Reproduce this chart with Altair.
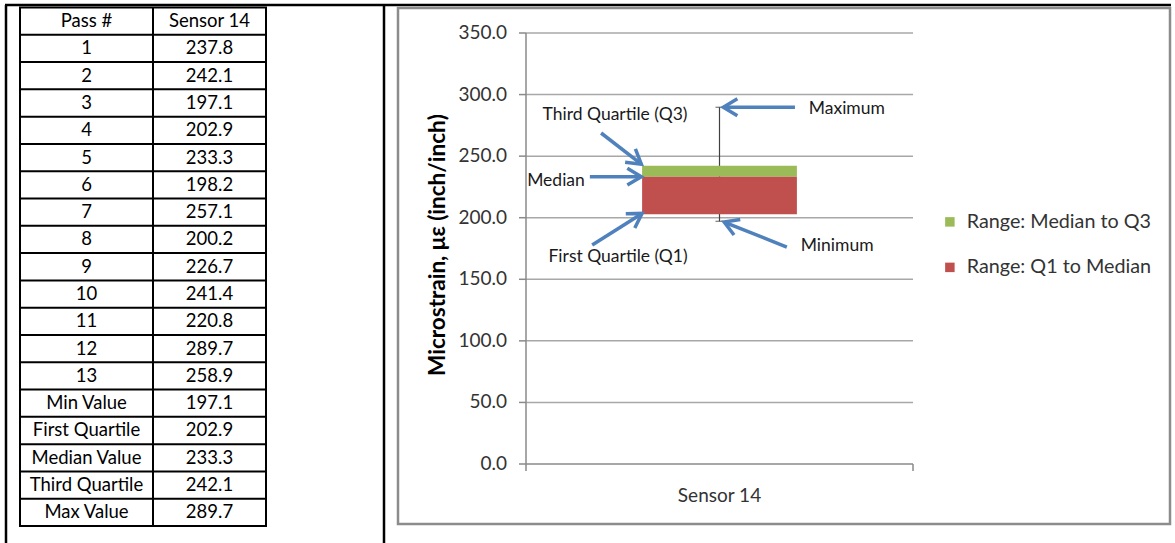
import math

import altair as alt
import pandas as pd

# ---------------- data ----------------
passes = [str(i) for i in range(1, 14)]
sensor14 = [237.8, 242.1, 197.1, 202.9, 233.3, 198.2, 257.1, 200.2, 226.7, 241.4, 220.8, 289.7, 258.9]
stat_labels = ["Min Value", "First Quartile", "Median Value", "Third Quartile", "Max Value"]
stat_values = [197.1, 202.9, 233.3, 242.1, 289.7]
table_header = ["Pass #", "Sensor 14"]

category = "Sensor 14"
y_ticks = [0, 50, 100, 150, 200, 250, 300, 350]
series_names = ["Range: Median to Q3", "Range: Q1 to Median"]
series_colors = ["#9BBB59", "#C0504D"]

# callouts: u = fraction across the plot width, v = microstrain
callout_text = ["Third Quartile (Q3)", "Median", "First Quartile (Q1)", "Maximum", "Minimum"]
callout_align = ["center", "right", "center", "center", "center"]
callout_u = [0.230, 0.152, 0.238, 0.829, 0.804]
callout_v = [283.4, 230.0, 168.1, 288.3, 177.0]
arrow_tail_u = [0.194, 0.165, 0.171, 0.695, 0.674]
arrow_tail_v = [268.8, 233.3, 177.8, 289.7, 176.2]
arrow_tip_u = [0.298, 0.298, 0.300, 0.510, 0.512]
arrow_tip_v = [243.5, 233.3, 203.5, 289.7, 196.5]

# ---------------- layout ----------------
W, H = 1175, 543
FONT = "Lato"
TEXT = "#1a1a1a"
AXIS_TEXT = "#333333"
BLUE = "#4F81BD"

TABLE_X = [20, 153, 266]
TABLE_Y = [7.5, 526]
PLOT_X = [526, 913]
PLOT_Y = [464, 33]
Y_DOMAIN = [0, 350]
HEAD_PATH = "M -1 -0.6 L 0 0 L -1 0.6"


def yscale():
    return alt.Scale(domain=Y_DOMAIN, range=PLOT_Y, nice=False, zero=False)


def uscale():
    return alt.Scale(domain=[0, 1], range=PLOT_X, nice=False, zero=False)


def xband():
    return alt.Scale(type="band", domain=[category], range=PLOT_X,
                     paddingInner=0, paddingOuter=0.75)


one = pd.DataFrame({"k": [0]})


def vrule(x, y0, y1, color, width):
    return alt.Chart(one).mark_rule(color=color, strokeWidth=width).encode(
        x=alt.value(x), y=alt.value(y0), y2=alt.value(y1))


def hrule(y, x0, x1, color, width):
    return alt.Chart(one).mark_rule(color=color, strokeWidth=width).encode(
        y=alt.value(y), x=alt.value(x0), x2=alt.value(x1))


layers = []

# ---------------- page frame ----------------
layers += [
    hrule(5, 5, 1171, "black", 2.5),
    vrule(6, 5, H, "black", 2.5),
    vrule(384, 5, H, "black", 2.5),
]

# ---------------- data table ----------------
rows = [tuple(table_header)]
rows += [(p, f"{v:.1f}") for p, v in zip(passes, sensor14)]
rows += [(s, f"{v:.1f}") for s, v in zip(stat_labels, stat_values)]
n_rows = len(rows)

cells = []
for r, (a, b) in enumerate(rows):
    cells.append({"rm": r + 0.5, "col": "c1", "text": a})
    cells.append({"rm": r + 0.5, "col": "c2", "text": b})
df_cells = pd.DataFrame(cells)

table_y = alt.Scale(domain=[0, n_rows], range=TABLE_Y, nice=False, zero=False)
col_mid = [(TABLE_X[0] + TABLE_X[1]) / 2, (TABLE_X[1] + TABLE_X[2]) / 2]

layers.append(
    alt.Chart(df_cells).mark_text(font=FONT, fontSize=18.5, color="black", baseline="middle").encode(
        x=alt.X("col:N", scale=alt.Scale(type="point", domain=["c1", "c2"], range=col_mid, padding=0), axis=None),
        y=alt.Y("rm:Q", scale=table_y, axis=None),
        text="text:N",
    )
)
layers.append(
    alt.Chart(pd.DataFrame({"r": list(range(n_rows + 1))})).mark_rule(color="black", strokeWidth=2).encode(
        x=alt.value(TABLE_X[0] - 1), x2=alt.value(TABLE_X[-1] + 1),
        y=alt.Y("r:Q", scale=table_y, axis=None),
    )
)
for xe in TABLE_X:
    layers.append(vrule(xe, TABLE_Y[0], TABLE_Y[1], "black", 2))

# ---------------- chart frame ----------------
layers.append(
    alt.Chart(one).mark_rect(fill="white", stroke="#8c8c8c", strokeWidth=2.5).encode(
        x=alt.value(398), x2=alt.value(1170), y=alt.value(8), y2=alt.value(524))
)

# gridlines, axis lines and ticks
df_ticks = pd.DataFrame({"v": y_ticks})
layers.append(
    alt.Chart(df_ticks[df_ticks.v > 0]).mark_rule(color="#a8a8a8", strokeWidth=1.5).encode(
        x=alt.value(PLOT_X[0]), x2=alt.value(PLOT_X[1]),
        y=alt.Y("v:Q", scale=yscale(), axis=None))
)
layers.append(
    alt.Chart(df_ticks).mark_rule(color="#8a8a8a", strokeWidth=1.5).encode(
        x=alt.value(PLOT_X[0] - 7), x2=alt.value(PLOT_X[0]),
        y=alt.Y("v:Q", scale=yscale(), axis=None))
)
layers.append(
    alt.Chart(df_ticks).mark_text(font=FONT, fontSize=19, color=AXIS_TEXT, align="right", baseline="middle").encode(
        x=alt.value(PLOT_X[0] - 19),
        y=alt.Y("v:Q", scale=yscale(), axis=None),
        text=alt.Text("v:Q", format=".1f"))
)
layers.append(
    alt.Chart(one).mark_rule(color="#8a8a8a", strokeWidth=1.5).encode(
        x=alt.value(PLOT_X[0]),
        y=alt.Y("lo:Q", scale=yscale(), axis=None), y2="hi:Q"
    ).transform_calculate(lo=str(Y_DOMAIN[0]), hi=str(Y_DOMAIN[1]))
)
layers.append(
    alt.Chart(one).mark_rule(color="#8a8a8a", strokeWidth=1.5).encode(
        x=alt.value(PLOT_X[0]), x2=alt.value(PLOT_X[1]),
        y=alt.Y("lo:Q", scale=yscale(), axis=None)
    ).transform_calculate(lo=str(Y_DOMAIN[0]))
)
for xe in PLOT_X:
    layers.append(vrule(xe, PLOT_Y[0], PLOT_Y[0] + 7, "#8a8a8a", 1.5))

# ---------------- box ----------------
vmin, q1, med, q3, vmax = stat_values
df_box = pd.DataFrame({"sensor": [category], "vmin": [vmin], "vmax": [vmax]})
df_seg = pd.DataFrame({
    "sensor": [category, category],
    "seg": series_names,
    "lo": [med, q1],
    "hi": [q3, med],
})

layers.append(
    alt.Chart(df_box).mark_rule(color="#404040", strokeWidth=1.2).encode(
        x=alt.X("sensor:N", scale=xband(), axis=None),
        y=alt.Y("vmin:Q", scale=yscale(), axis=None), y2="vmax:Q")
)
layers.append(
    alt.Chart(df_box).transform_fold(["vmin", "vmax"], as_=["which", "val"]).mark_tick(
        color="#404040", size=8, thickness=1.2, orient="horizontal").encode(
        x=alt.X("sensor:N", scale=xband(), axis=None),
        y=alt.Y("val:Q", scale=yscale(), axis=None))
)
layers.append(
    alt.Chart(df_seg).mark_bar(strokeWidth=0).encode(
        x=alt.X("sensor:N", scale=xband(), axis=None),
        y=alt.Y("lo:Q", scale=yscale(), axis=None), y2="hi:Q",
        color=alt.Color("seg:N", scale=alt.Scale(domain=series_names, range=series_colors),
                        legend=alt.Legend(title=None, orient="none", legendX=940, legendY=212,
                                          symbolType="square", symbolSize=90, symbolStrokeWidth=0,
                                          symbolOpacity=1, labelFont=FONT, labelFontSize=19.75,
                                          labelColor=AXIS_TEXT, labelLimit=400, labelOffset=7,
                                          rowPadding=24.5, padding=0)),
    )
)

# category label under the axis
layers.append(
    alt.Chart(pd.DataFrame({"sensor": [category]})).mark_text(
        font=FONT, fontSize=19, color=AXIS_TEXT, baseline="middle").encode(
        x=alt.X("sensor:N", scale=xband(), axis=None),
        y=alt.value(496), text="sensor:N")
)

# axis title
layers.append(
    alt.Chart(pd.DataFrame({"t": ["Microstrain, \u03bc\u03b5 (inch/inch)"]})).mark_text(
        font=FONT, fontSize=22.5, fontWeight="bold", color="black", angle=270, baseline="middle").encode(
        x=alt.value(438), y=alt.value(245), text="t:N")
)

# ---------------- callouts ----------------
def to_px(u, v):
    px = PLOT_X[0] + u * (PLOT_X[1] - PLOT_X[0])
    py = PLOT_Y[0] + (v - Y_DOMAIN[0]) / (Y_DOMAIN[1] - Y_DOMAIN[0]) * (PLOT_Y[1] - PLOT_Y[0])
    return px, py


angles = []
for tu, tv, hu, hv in zip(arrow_tail_u, arrow_tail_v, arrow_tip_u, arrow_tip_v):
    x0, y0 = to_px(tu, tv)
    x1, y1 = to_px(hu, hv)
    angles.append(math.degrees(math.atan2(y1 - y0, x1 - x0)) % 360)

df_arrows = pd.DataFrame({
    "tail_u": arrow_tail_u, "tail_v": arrow_tail_v,
    "tip_u": arrow_tip_u, "tip_v": arrow_tip_v, "angle": angles,
})
layers.append(
    alt.Chart(df_arrows).mark_rule(color=BLUE, strokeWidth=3.5).encode(
        x=alt.X("tail_u:Q", scale=uscale(), axis=None), x2="tip_u:Q",
        y=alt.Y("tail_v:Q", scale=yscale(), axis=None), y2="tip_v:Q")
)
layers.append(
    alt.Chart(df_arrows).mark_point(shape=HEAD_PATH, filled=False, size=784, strokeWidth=3.5,
                                    color=BLUE, opacity=1, strokeJoin="miter").encode(
        x=alt.X("tip_u:Q", scale=uscale(), axis=None),
        y=alt.Y("tip_v:Q", scale=yscale(), axis=None),
        angle=alt.Angle("angle:Q", scale=None))
)

df_callouts = pd.DataFrame({"text": callout_text, "align": callout_align, "u": callout_u, "v": callout_v})
for al in ["center", "right"]:
    layers.append(
        alt.Chart(df_callouts[df_callouts["align"] == al]).mark_text(
            font=FONT, fontSize=17.5, color=TEXT, align=al, baseline="middle").encode(
            x=alt.X("u:Q", scale=uscale(), axis=None),
            y=alt.Y("v:Q", scale=yscale(), axis=None),
            text="text:N")
    )

chart = alt.layer(*layers).resolve_scale(
    x="independent", y="independent", color="independent"
).properties(
    width=W, height=H, padding=0, autosize="none", background="white"
).configure_view(stroke=None)

chart.save("out.html", embed_options={"renderer": "svg", "actions": False})
